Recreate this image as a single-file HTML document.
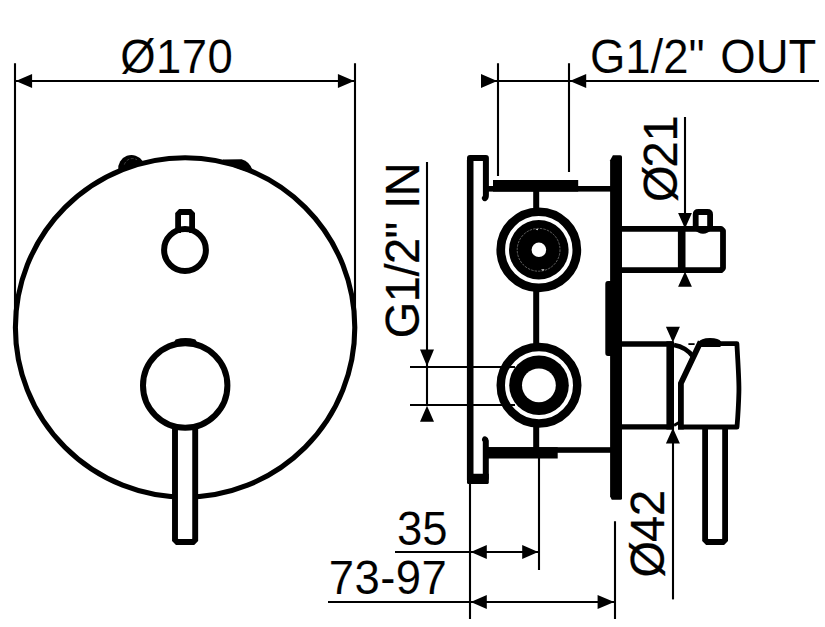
<!DOCTYPE html>
<html>
<head>
<meta charset="utf-8">
<title>Dimensions</title>
<style>
html,body{margin:0;padding:0;background:#fff;}
body{width:825px;height:627px;overflow:hidden;}
svg{display:block;}
text{font-family:"Liberation Sans",sans-serif;font-size:45.5px;fill:#000;stroke:#fff;stroke-width:0.12px;}
text.rot{font-size:47px;stroke:#000;stroke-width:0.25px;}
.thin{stroke:#000;stroke-width:2.1;fill:none;}
.arr{fill:#000;stroke:none;}
.ln{stroke:#000;stroke-width:6;fill:none;stroke-linejoin:round;stroke-linecap:butt;}
.rc{stroke-linecap:round;}
</style>
</head>
<body>
<svg width="825" height="627" viewBox="0 0 825 627">
<rect width="825" height="627" fill="#fff"/>

<!-- ================= FRONT VIEW ================= -->
<g id="front">
  <!-- dimension 170 -->
  <path class="thin" d="M15 63.2V327M355 63.2V327M15 81H355"/>
  <path class="arr" d="M15.8 81l16.3 -7v14zM354.2 81l-16.3 -7v14z"/>
  <text transform="translate(120.3 73.3) scale(1 1.04)" style="letter-spacing:0.4px">Ø170</text>
  <!-- screws -->
  <path d="M118.3 170 A13.3 13.3 0 0 1 142.6 161 L141 164 L120 172 Z" fill="#000"/>
  <path d="M124.3 164.6 A8.6 8.6 0 0 1 137 159.8" fill="none" stroke="#777" stroke-width="0.5" stroke-dasharray="3 1.5"/>
  <path d="M223 159.4 L241.6 159.3 Q249.6 161.6 252.5 170 L248 172 L223 163 Z" fill="#000"/>
  <!-- plate -->
  <circle cx="185.1" cy="327.4" r="169.7" stroke="#000" stroke-width="5.1" fill="none"/>
  <!-- diverter knob -->
  <path class="ln" d="M178.1 233V214.2l2.2 -2.2h9.6l2.2 2.2V233" style="stroke-width:5.8;stroke-linejoin:miter"/>
  <circle cx="185" cy="250" r="20.9" stroke="#000" stroke-width="6" fill="none"/>
  <!-- handle -->
  <path class="ln" d="M175 426V539.8l2.2 2.2h15.8l2.2 -2.2V426" style="fill:#fff;stroke-width:5.9;stroke-linejoin:miter"/>
  <circle cx="185.2" cy="385.5" r="42.2" stroke="#000" stroke-width="6" fill="#fff"/>
  <path d="M174.4 341.5 L175.6 339.4 Q185.5 336.6 195.4 339.4 L196.6 341.5 L196 346 L175 346 Z" fill="#000"/>
</g>

<!-- ================= SIDE VIEW ================= -->
<g id="side">
  <!-- G1/2 OUT dimension -->
  <path class="thin" d="M498 63.2V176M569 63.2V172M481 81H819"/>
  <path class="arr" d="M497.2 81l-16.2 -7v14zM569.8 81l16.4 -7v14z"/>
  <text transform="translate(589.9 73.2) scale(1 1.04)" style="word-spacing:3px">G1/2" OUT</text>

  <!-- G1/2 IN dimension -->
  <path class="thin" d="M427 162V405"/>
  <path class="arr" d="M427 366.2l-7 -16.6h14zM427 405.8l-7 16h14z"/>
  <text class="rot" transform="translate(419.4 338.3) rotate(-90) scale(1 1.04)" style="letter-spacing:-0.5px;word-spacing:1px">G1/2" IN</text>

  <!-- 35 / 73-97 dimensions -->
  <path class="thin" d="M470 483V619M539 458V570M615 521.3V619M395 552H539M328 602H615"/>
  <path class="arr" d="M470.8 552l16 -7v14zM538.2 552l-16 -7v14zM470.8 602l16 -7v14zM614.2 602l-16.6 -7v14z"/>
  <text transform="translate(396.9 544.6) scale(1 1.04)">35</text>
  <text transform="translate(328.7 594.3) scale(1 1.04)" style="letter-spacing:0.45px">73-97</text>

  <!-- dia 21 -->
  <path class="thin" d="M685 117V228"/>
  <path class="arr" d="M685 228.5l-6.9 -15.4h13.8zM685 271.5l-6.9 15.3h13.8z"/>
  <text class="rot" transform="translate(677.2 201.9) rotate(-90) scale(1 1.04)">Ø<tspan dx="-2.2">21</tspan></text>

  <!-- dia 42 -->
  <path class="thin" d="M673 427V599.4"/>
  <path class="arr" d="M672.9 342.5l-7 -15.7h14zM672.9 428l-7 15.6h14z"/>
  <text class="rot" transform="translate(664 577.4) rotate(-90) scale(1 1.04)">Ø<tspan dx="-1.2">42</tspan></text>

  <!-- rear housing -->
  <path class="ln" d="M470.2 480V160" style="stroke-width:6.6"/>
  <path class="ln rc" d="M470 170V157.9H485.9V195Q485.9 197.6 484.9 198.2" style="stroke-width:6"/>
  <path d="M467 473.8H488.8V482.8Q488.8 483.9 487.7 483.9H468.1Q467 483.9 467 482.8Z" fill="#000"/>
  <path class="ln rc" d="M485.8 478V441Q485.6 439.6 485 439.4"/>
  <rect x="486" y="186" width="126" height="5.6" fill="#000"/>
  <rect x="493" y="180" width="85.2" height="11.6" fill="#000"/>
  <rect x="486" y="447.2" width="126" height="5.6" fill="#000"/>
  <rect x="487.7" y="447.2" width="70" height="11.3" fill="#000"/>
  <path class="ln" d="M536.2 190V210M536.2 290V345M536.2 425V450"/>

  <!-- outlets -->
  <circle cx="538.8" cy="249.8" r="38.05" stroke="#000" stroke-width="8.7" fill="#fff"/>
  <circle cx="538.8" cy="249.8" r="29.8" fill="#000"/>
  <circle cx="538.6" cy="249.8" r="21.4" fill="none" stroke="#bbb" stroke-width="0.5" stroke-dasharray="2.5 1"/>
  <path d="M535.5 229.6l2.6 -0.9l-0.6 1.6zM541 269.6l3.6 -0.4l-1.6 1.6z" fill="#fff"/>
  <circle cx="538.9" cy="249.8" r="7.3" fill="#fff"/>
  <circle cx="539" cy="385.2" r="38.25" stroke="#000" stroke-width="8.5" fill="#fff"/>
  <circle cx="539" cy="385.2" r="29.8" fill="#000"/>
  <circle cx="538.9" cy="385.3" r="16.9" fill="#fff"/>
  <path class="thin" d="M410 367H515M410 405H515"/>

  <!-- wall plate -->
  <path d="M610.1 160.3 L612.9 155.2 H620.4 Q622 155.2 622 157 V498.4 Q622 499.8 620.6 499.8 H611.8 L610.1 496.5 Z" fill="#000"/>
  <path d="M611 281 H608 Q605.3 281 605.3 284 V353 Q605.3 356 608 356 H611 Z" fill="#000"/>

  <!-- diverter knob side -->
  <path class="ln" d="M621 228.8H721l2 2V268.1l-2 2H621" style="stroke-width:5.8"/>
  <path class="ln" d="M681.7 228V270.5" style="stroke-width:7.6"/>
  <path class="ln" d="M695.7 230V214.6q0 -2.6 2.6 -2.6h9.2q2.6 0 2.6 2.6V230" style="stroke-width:5.8"/>
  <path d="M693.5 229 Q703 238.5 712.5 229 Z" fill="#000"/>

  <!-- handle side -->
  <path class="ln" d="M621 344H673" style="stroke-width:5.6"/>
  <path class="ln" d="M621 426.9H673" style="stroke-width:5.4"/>
  <path class="ln" d="M670.2 341.3V429.5" style="stroke-width:7.6"/>
  <path class="ln" d="M674 345 Q686 347 693.5 357" style="stroke-width:4.6"/>
  <path class="ln" d="M688.4 344.1H694.6" style="stroke-width:1.8"/>
  <path class="ln" d="M674 425.5L679 422.5" style="stroke-width:3"/>
  <path class="ln" d="M705.1 428V539.8l2.2 2.2h15.6l2.2 -2.2V428" style="fill:#fff;stroke-width:5.8;stroke-linejoin:miter"/>
  <path class="ln" d="M680.9 429.4V383.3L700.6 341.8" style="stroke-width:5.8;stroke-linejoin:miter"/>
  <path class="ln" d="M700 343.6H736.9C738 365 739.2 380 738.9 392C738.6 405 737.8 417 737 427H678" style="stroke-width:4.8;stroke-linejoin:round"/>
  <path d="M698.4 342.5 Q700.5 338 710 338 Q719 338 721 341.5 L720.5 347 L698.4 347 Z" fill="#000"/>
</g>
</svg>
</body>
</html>
